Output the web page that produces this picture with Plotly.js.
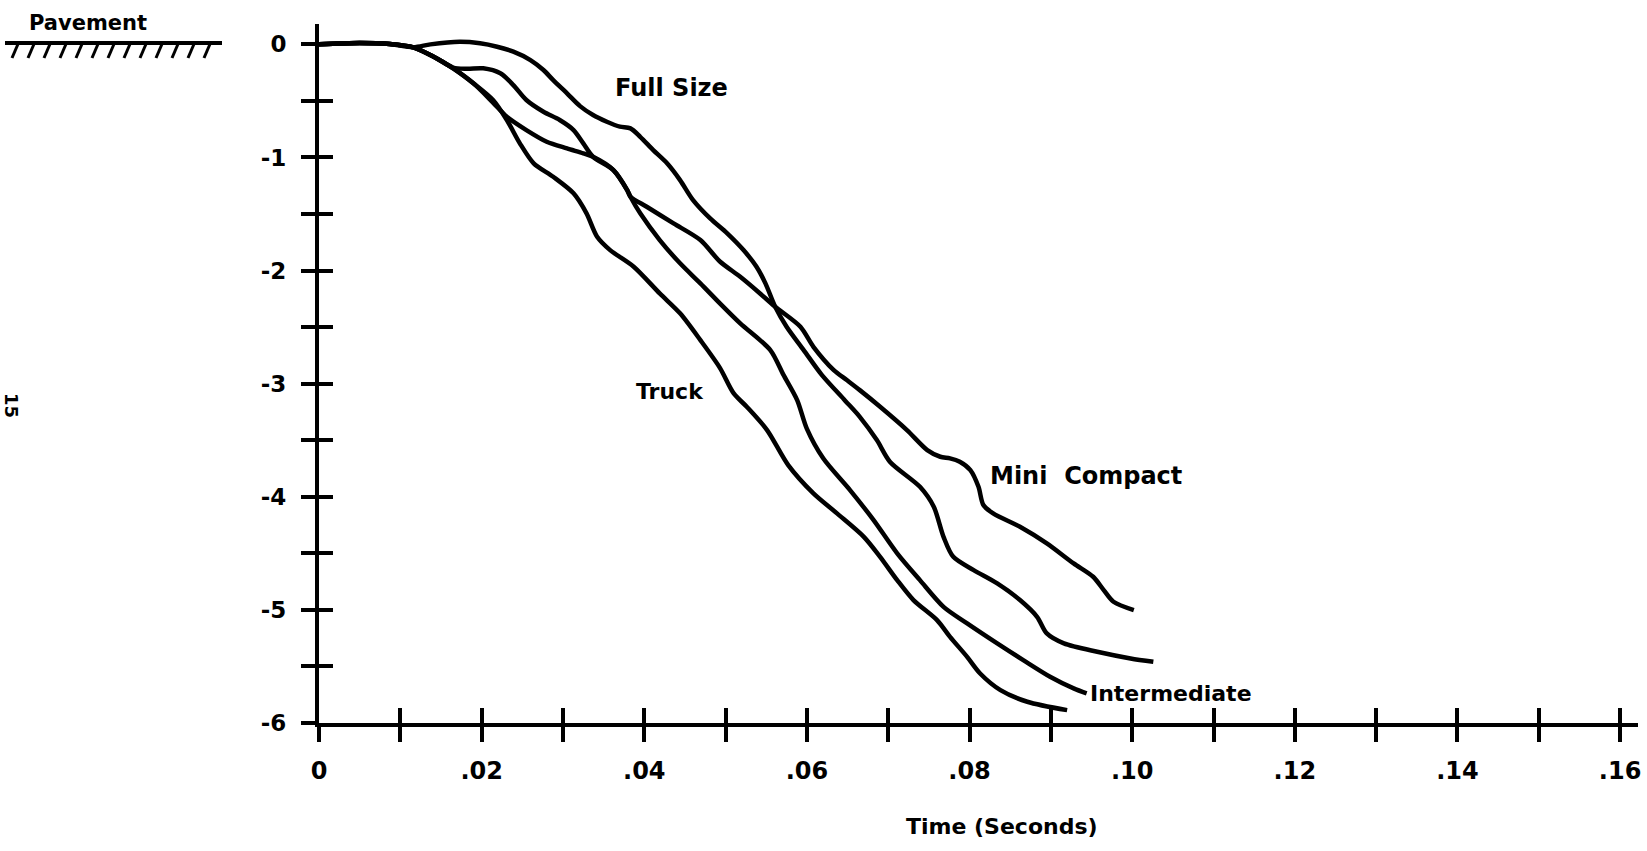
<!DOCTYPE html>
<html>
<head>
<meta charset="utf-8">
<script src="https://cdn.plot.ly/plotly-3.0.1.min.js"></script>
<style>
  html, body { margin: 0; padding: 0; background: #fff; }
  #chart { width: 1647px; height: 851px; }
</style>
</head>
<body>
<div id="chart"></div>
<script>
// ---- Data (time in seconds, displacement) ----
const fullSizeT = [0, 0.005, 0.0087, 0.0116, 0.0137, 0.0173, 0.0198, 0.0219, 0.0239, 0.026, 0.0276, 0.0288, 0.0305, 0.0321, 0.0337, 0.0354, 0.0370, 0.0383, 0.0395, 0.0411, 0.0428, 0.0444, 0.0460, 0.0481, 0.0502, 0.0522, 0.0538, 0.0549, 0.0561, 0.0575, 0.0596, 0.0618, 0.0647, 0.0665, 0.0686, 0.0702, 0.0739, 0.0756, 0.0768, 0.0780, 0.0805, 0.0834, 0.0862, 0.0883, 0.0895, 0.0916, 0.0957, 0.0998, 0.1026];
const fullSizeD = [0, 0.012, 0.003, -0.025, 0.0, 0.022, 0.009, -0.021, -0.065, -0.139, -0.227, -0.316, -0.433, -0.546, -0.625, -0.684, -0.728, -0.743, -0.817, -0.935, -1.052, -1.2, -1.377, -1.539, -1.671, -1.819, -1.966, -2.113, -2.32, -2.497, -2.703, -2.92, -3.15, -3.293, -3.499, -3.69, -3.912, -4.088, -4.354, -4.531, -4.648, -4.766, -4.913, -5.061, -5.208, -5.296, -5.37, -5.429, -5.459];

const intermediateT = [0, 0.005, 0.0087, 0.0116, 0.0141, 0.0165, 0.0182, 0.0202, 0.0223, 0.0239, 0.0255, 0.0276, 0.0296, 0.0313, 0.0325, 0.0337, 0.0362, 0.0379, 0.0383, 0.0395, 0.0419, 0.0444, 0.0469, 0.0493, 0.0518, 0.0555, 0.0571, 0.0588, 0.0600, 0.0620, 0.0653, 0.0682, 0.0711, 0.0739, 0.0768, 0.0797, 0.0834, 0.0866, 0.0899, 0.0928, 0.0944];
const intermediateD = [0, 0.012, 0.003, -0.027, -0.11, -0.205, -0.215, -0.212, -0.256, -0.36, -0.492, -0.596, -0.669, -0.758, -0.875, -0.994, -1.111, -1.288, -1.347, -1.494, -1.73, -1.936, -2.113, -2.29, -2.467, -2.703, -2.92, -3.145, -3.40, -3.66, -3.941, -4.206, -4.5, -4.737, -4.973, -5.119, -5.296, -5.444, -5.591, -5.694, -5.738];

const miniCompactT = [0, 0.005, 0.0087, 0.0116, 0.0141, 0.0165, 0.019, 0.0214, 0.0231, 0.0255, 0.028, 0.0305, 0.0325, 0.0337, 0.0362, 0.0379, 0.0383, 0.0403, 0.0436, 0.0469, 0.0493, 0.0518, 0.0542, 0.0561, 0.0592, 0.0608, 0.0633, 0.0649, 0.0665, 0.069, 0.0723, 0.0748, 0.0764, 0.0776, 0.0788, 0.0801, 0.0811, 0.0817, 0.0829, 0.0862, 0.0895, 0.0928, 0.0952, 0.0965, 0.0977, 0.1002];
const miniCompactD = [0, 0.012, 0.003, -0.027, -0.11, -0.212, -0.345, -0.515, -0.64, -0.758, -0.861, -0.92, -0.964, -0.994, -1.111, -1.288, -1.347, -1.436, -1.583, -1.73, -1.92, -2.055, -2.2, -2.32, -2.497, -2.674, -2.88, -2.968, -3.057, -3.204, -3.41, -3.587, -3.646, -3.66, -3.69, -3.764, -3.912, -4.073, -4.147, -4.265, -4.412, -4.589, -4.707, -4.825, -4.928, -5.002];

const truckT = [0, 0.005, 0.0087, 0.0116, 0.0141, 0.0165, 0.019, 0.0214, 0.0231, 0.0247, 0.0264, 0.0288, 0.0313, 0.0329, 0.0342, 0.0358, 0.0387, 0.0419, 0.0444, 0.0469, 0.0493, 0.051, 0.0526, 0.0551, 0.0577, 0.0608, 0.0637, 0.067, 0.069, 0.0711, 0.0731, 0.076, 0.0776, 0.0797, 0.0813, 0.0838, 0.0871, 0.092];
const truckD = [0, 0.012, 0.003, -0.027, -0.11, -0.212, -0.345, -0.492, -0.669, -0.875, -1.052, -1.171, -1.317, -1.494, -1.701, -1.819, -1.966, -2.202, -2.378, -2.615, -2.86, -3.086, -3.204, -3.41, -3.72, -3.97, -4.147, -4.354, -4.531, -4.737, -4.913, -5.09, -5.238, -5.415, -5.562, -5.709, -5.812, -5.886];

// ---- Tick labels ----
const xTickVals = [0, 0.01, 0.02, 0.03, 0.04, 0.05, 0.06, 0.07, 0.08, 0.09, 0.10, 0.11, 0.12, 0.13, 0.14, 0.15, 0.16];
const xTickText = ["0", "", ".02", "", ".04", "", ".06", "", ".08", "", ".10", "", ".12", "", ".14", "", ".16"];
const yTickVals = [0, -0.5, -1, -1.5, -2, -2.5, -3, -3.5, -4, -4.5, -5, -5.5, -6];
const yTickText = ["0", "", "-1", "", "-2", "", "-3", "", "-4", "", "-5", "", "-6"];

// ---- Curve labels ----
const labelText = ["Full Size", "Truck", "Mini  Compact", "Intermediate"];
const labelT = [0.0434, 0.0432, 0.0823, 0.0946];
const labelD = [-0.39, -3.07, -3.82, -5.735];

const FONT = "DejaVu Sans, Liberation Sans, sans-serif";
const lineStyle = {color: "#000", width: 4.5, shape: "spline", smoothing: 0.8};

const series = [
  {name: "Full Size", x: fullSizeT, y: fullSizeD},
  {name: "Intermediate", x: intermediateT, y: intermediateD},
  {name: "Mini Compact", x: miniCompactT, y: miniCompactD},
  {name: "Truck", x: truckT, y: truckD}
];
const traces = series.map(s => ({
  type: "scatter", mode: "lines", name: s.name, x: s.x, y: s.y,
  line: lineStyle, showlegend: false, hoverinfo: "x+y+name"
}));
// empty trace to create overlay axes (for crossing ticks)
traces.push({type: "scatter", mode: "lines", x: [], y: [], xaxis: "x2", yaxis: "y2", showlegend: false, hoverinfo: "skip"});

const xRange = [0, 0.1622];
const yRange = [-6, 0.18];

// pixel -> paper helpers for decorations outside the plot area
const L = 319, R = 1638, T = 24, B = 723;
const px = v => (v - L) / (R - L);
const py = v => (B - v) / (B - T);

const shapes = [{type: "line", xref: "paper", yref: "paper", x0: px(5), x1: px(222), y0: py(43), y1: py(43), line: {color: "#000", width: 4}}];
const hatchStarts = [18, 34, 50, 66, 82, 98, 114, 130, 146, 162, 178, 194, 210];
hatchStarts.forEach(h => {
  shapes.push({type: "line", xref: "paper", yref: "paper", x0: px(h), y0: py(44), x1: px(h - 6), y1: py(58), line: {color: "#000", width: 3}});
});

const annotations = labelText.map((t, i) => ({
  x: labelT[i], y: labelD[i], xref: "x", yref: "y", text: t, showarrow: false,
  xanchor: i >= 2 ? "left" : "center", yanchor: "middle",
  font: {family: FONT, size: i === 3 ? 22 : (i === 1 ? 22 : 24), color: "#000", weight: "bold"}
}));
annotations.push({xref: "paper", yref: "paper", x: px(88), y: py(23), text: "Pavement", showarrow: false, xanchor: "center", yanchor: "middle", font: {family: FONT, size: 21, color: "#000", weight: "bold"}});
annotations.push({xref: "paper", yref: "paper", x: px(1002), y: py(826), text: "Time (Seconds)", showarrow: false, xanchor: "center", yanchor: "middle", font: {family: FONT, size: 22, color: "#000", weight: "bold"}});
annotations.push({xref: "paper", yref: "paper", x: px(12), y: py(405), text: "15", textangle: 90, showarrow: false, xanchor: "center", yanchor: "middle", font: {family: FONT, size: 18, color: "#000", weight: "bold"}});

const layout = {
  width: 1647, height: 851,
  margin: {l: L, r: 1647 - R, t: T, b: 851 - B, pad: 0},
  paper_bgcolor: "#fff", plot_bgcolor: "#fff",
  showlegend: false,
  xaxis: {
    range: xRange, tickmode: "array", tickvals: xTickVals, ticktext: xTickText,
    ticks: "outside", ticklen: 15, tickwidth: 4, tickcolor: "#000",
    showline: true, linewidth: 4, linecolor: "#000", showgrid: false, zeroline: false,
    tickfont: {family: FONT, size: 24, color: "#000", weight: "bold"}, ticklabelstandoff: 8, fixedrange: true
  },
  yaxis: {
    range: yRange, tickmode: "array", tickvals: yTickVals, ticktext: yTickText,
    ticks: "outside", ticklen: 14, tickwidth: 4, tickcolor: "#000",
    showline: true, linewidth: 4, linecolor: "#000", showgrid: false, zeroline: false,
    tickfont: {family: FONT, size: 23, color: "#000", weight: "bold"}, ticklabelstandoff: 10, fixedrange: true
  },
  xaxis2: {
    overlaying: "x", anchor: "y2", side: "bottom", range: xRange, tickmode: "array", tickvals: xTickVals,
    ticks: "inside", ticklen: 15, tickwidth: 4, tickcolor: "#000",
    showticklabels: false, showline: false, showgrid: false, zeroline: false, fixedrange: true
  },
  yaxis2: {
    overlaying: "y", anchor: "x2", side: "left", range: yRange, tickmode: "array", tickvals: yTickVals,
    ticks: "inside", ticklen: 14, tickwidth: 4, tickcolor: "#000",
    showticklabels: false, showline: false, showgrid: false, zeroline: false, fixedrange: true
  },
  shapes: shapes,
  annotations: annotations
};

Plotly.newPlot("chart", traces, layout, {displayModeBar: false, staticPlot: true});
</script>
</body>
</html>
